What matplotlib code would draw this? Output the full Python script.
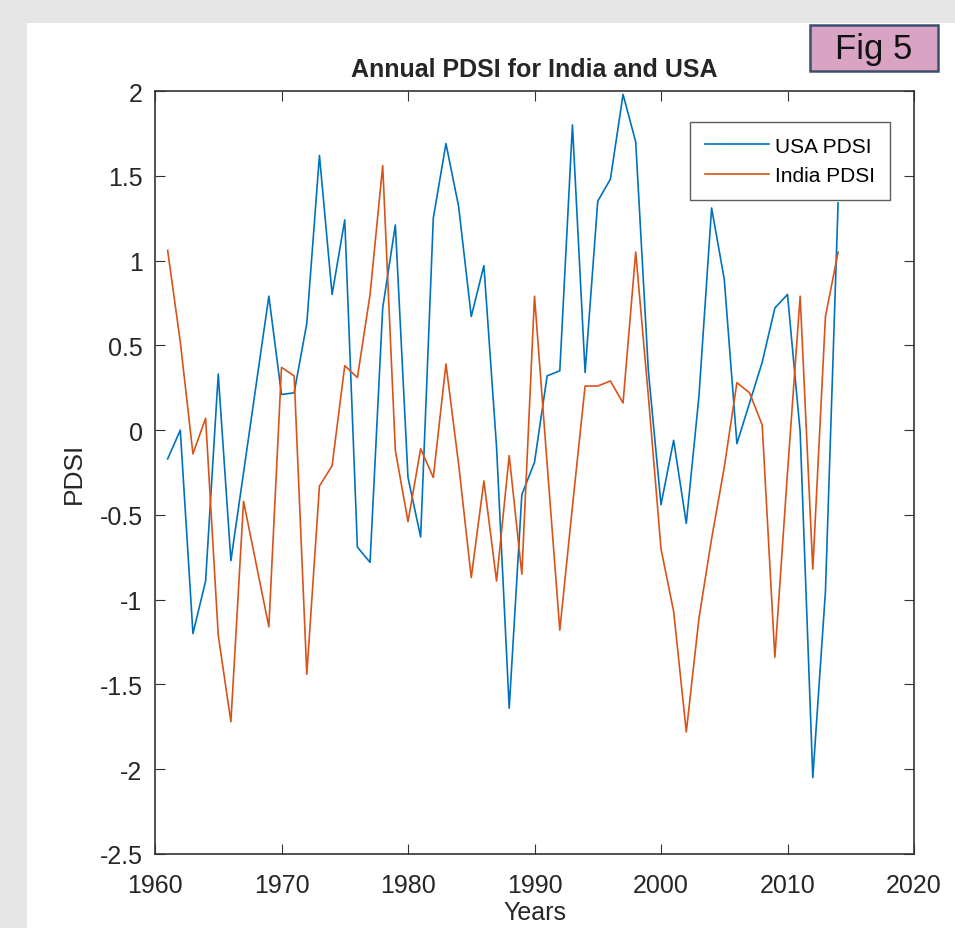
import matplotlib.pyplot as plt
from matplotlib.patches import Rectangle
from matplotlib.ticker import FuncFormatter

plt.rcParams['font.family'] = ['Liberation Sans', 'DejaVu Sans']

years = list(range(1961, 2015))
usa_pdsi = [-0.17, 0.0, -1.20, -0.89, 0.33, -0.77, -0.25, 0.27, 0.79, 0.21,
            0.22, 0.63, 1.62, 0.80, 1.24, -0.69, -0.78, 0.72, 1.21, -0.28,
            -0.63, 1.25, 1.69, 1.32, 0.67, 0.97, -0.10, -1.64, -0.38, -0.19,
            0.32, 0.35, 1.80, 0.34, 1.35, 1.48, 1.98, 1.70, 0.35, -0.44,
            -0.06, -0.55, 0.20, 1.31, 0.89, -0.08, 0.16, 0.40, 0.72, 0.80,
            -0.01, -2.05, -0.95, 1.34]
india_pdsi = [1.06, 0.52, -0.14, 0.07, -1.21, -1.72, -0.42, -0.79, -1.16, 0.37,
              0.32, -1.44, -0.33, -0.21, 0.38, 0.31, 0.80, 1.56, -0.12, -0.54,
              -0.11, -0.28, 0.39, -0.20, -0.87, -0.30, -0.89, -0.15, -0.85, 0.79,
              -0.20, -1.18, -0.45, 0.26, 0.26, 0.29, 0.16, 1.05, 0.20, -0.70,
              -1.07, -1.78, -1.11, -0.64, -0.22, 0.28, 0.22, 0.03, -1.34, -0.25,
              0.79, -0.82, 0.67, 1.05]

W, H = 955, 929
fig = plt.figure(figsize=(W / 100, H / 100), dpi=100)
fig.patch.set_facecolor("#e6e6e6")
# white panel behind the axes
fig.patches.append(Rectangle((27 / W, 0), 1 - 27 / W, 1 - 24 / H,
                             transform=fig.transFigure, facecolor="white",
                             edgecolor="none", zorder=-10))

ax = fig.add_axes([155 / W, 1 - 855 / H, 759 / W, (855 - 92) / H])
ax.plot(years, usa_pdsi, color="#0072BD", lw=1.2, label="USA PDSI")
ax.plot(years, india_pdsi, color="#D95319", lw=1.2, label="India PDSI")

ax.set_xlim(1960, 2020)
ax.set_ylim(-2.5, 2)
ax.set_xticks(range(1960, 2021, 10))
ax.set_yticks([-2.5, -2, -1.5, -1, -0.5, 0, 0.5, 1, 1.5, 2])
ax.yaxis.set_major_formatter(FuncFormatter(lambda v, p: f"{v:g}"))
ax.tick_params(direction="in", length=7, top=True, right=True, labelsize=18,
               color="#333333", labelcolor="#262626")
ax.tick_params(axis="x", pad=14)
ax.tick_params(axis="y", pad=9)
for s in ax.spines.values():
    s.set_color("#333333")
    s.set_linewidth(1.2)

ax.set_title("Annual PDSI for India and USA", fontsize=18, fontweight="bold",
             color="#262626", pad=11)
ax.set_ylabel("PDSI", fontsize=19, color="#262626", labelpad=10)
ax.set_xlabel("Years", fontsize=18, color="#262626", labelpad=2)

leg = ax.legend(loc="upper right", bbox_to_anchor=((890 - 155) / 759, (855 - 123) / 763),
                borderaxespad=0, fontsize=15, frameon=True, fancybox=False,
                handlelength=3.1, handletextpad=0.3, borderpad=0.7,
                labelspacing=0.5)
leg.get_frame().set_edgecolor("#333333")
leg.get_frame().set_linewidth(1.0)

# "Fig 5" tag in the top right corner
fig.patches.append(Rectangle((810 / W, 1 - 72 / H), 128 / W, 46 / H,
                             transform=fig.transFigure, facecolor="#d9a3c4",
                             edgecolor="#3d4f6e", linewidth=1.8, zorder=5))
fig.text(874 / W, 1 - 49 / H, "Fig 5", fontsize=25, ha="center", va="center",
         color="#111111", zorder=6)

fig.savefig("out.png", dpi=100)
